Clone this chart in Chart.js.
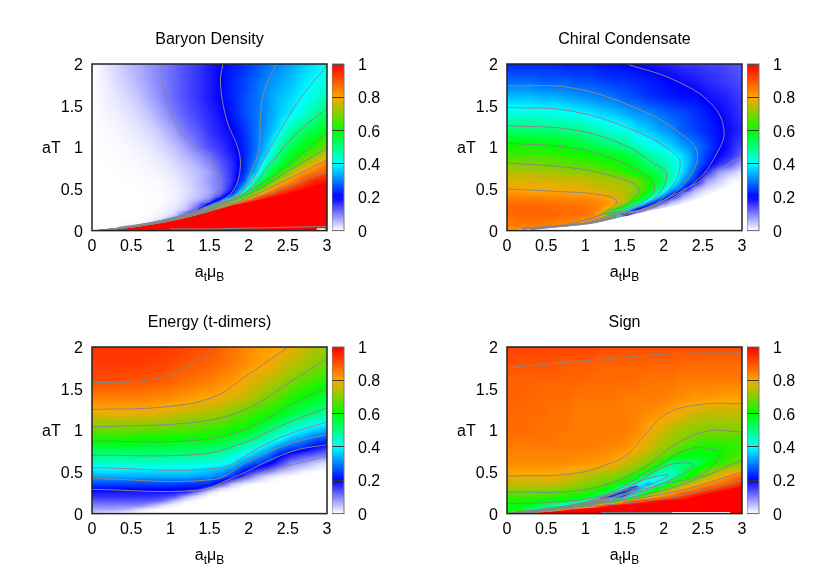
<!DOCTYPE html>
<html>
<head>
<meta charset="utf-8">
<script src="https://cdn.jsdelivr.net/npm/chart.js@4"></script>
<style>
body { margin: 0; background: #fff; }
#wrap { position: relative; width: 830px; height: 581px; overflow: hidden; }
canvas { position: absolute; }
</style>
</head>
<body>
<div id="wrap"></div>
<script>
// grid the values were read on
const muGrid = [0,.15,.3,.45,.6,.75,.9,1.05,1.2,1.35,1.5,1.65,1.8,1.95,2.1,2.25,2.4,2.55,2.7,2.85,3];
const tGrid = [0,.05,.1,.15,.2,.25,.3,.35,.4,.45,.5,.6,.7,.8,.9,1,1.2,1.4,1.6,1.8,2];

// values in hundredths, one row per tGrid entry, bottom row first
const baryon = [
[0,0,0,100,100,100,100,100,100,100,100,100,100,100,100,100,100,100,100,100,100],
[0,0,.2,1,3,6,10,100,100,100,100,100,100,100,100,100,100,100,100,100,100],
[0,0,0,.2,.5,1.5,5,8,15,100,100,100,100,100,100,100,100,100,100,100,100],
[0,0,0,0,.2,.6,2,6,10,20,100,100,100,100,100,100,100,100,100,100,100],
[0,0,0,0,0,.3,1,3,12,30,40,100,100,100,100,100,100,100,100,100,100],
[0,0,0,0,0,.2,.6,2,5,14,70,100,100,100,100,100,100,100,100,100,100],
[0,0,0,0,0,.1,.5,1.5,4,10,28,72,97,100,100,100,100,100,100,100,100],
[0,0,0,0,0,.1,.4,1.2,3,7,12,31,70,90,98,100,100,100,100,100,100],
[0,0,0,0,0,.1,.3,1,2.5,5,8,17,36,68,87,97,100,100,100,100,100],
[0,0,0,0,0,.1,.3,1,2.5,4.5,7,12,23,52,75,86,95,99,100,100,100],
[0,0,0,0,.1,.2,.4,1,2.5,4.5,7,11,19,38,60,78,88,94,98,100,100],
[0,0,0,.1,.2,.3,.7,1.5,3,5,8,11,17,27,48,60,75,83,90,96,98],
[0,0,.1,.2,.3,.6,1.1,2,3.5,5,7.5,12,17,24,36,53,61,74,82,86,90],
[0,.1,.2,.3,.5,.9,1.6,2.8,4.5,6.5,9.5,13,17,23,32,47,55,62,72,79,85],
[0,.1,.2,.4,.8,1.3,2.3,3.8,5.8,8.3,11,15,18,23,30,39,52,57,64,70,77],
[0,.1,.3,.6,1.1,1.8,3,4.8,7.5,11,14,16,19,23,29,36,48,54,58,63,70],
[0,.3,.7,1.2,2,3.1,5,7.6,11,13,16,18,20,24,29,33,39,48,52,55,58],
[0,.6,1.2,2,3.2,5,7.6,10.5,13,15,17,19,22,26,29,32,36,39,43,48,53],
[0,.9,1.9,3,4.6,7,9.5,12,14,16,18,20,23,26,29,32,35,37,40,43,46],
[0,1.2,2.6,4.2,6,8,10,12,14,16,18,20,23,25,28,31,33,35,38,40,43],
[0,1.5,3.2,5,6.5,8.5,10,12,14,15.5,18,20,22,24,26,29,31,33,36,38,40]
];
const chiral = [
[80,80,80,80,80,0,0,0,0,0,0,0,0,0,0,0,0,0,0,0,0],
[84,85,85,85,84,84,84,0,0,0,0,0,0,0,0,0,0,0,0,0,0],
[85,86,86,86,85,84,84,80,80,0,0,0,0,0,0,0,0,0,0,0,0],
[86,87,87,87,87,86,85,84,82,70,30,1,0,0,0,0,0,0,0,0,0],
[87,88,88,88,88,87,87,86,80,50,22,6,1,0,0,0,0,0,0,0,0],
[88,88,88,88,87,87,87,86,82,68,47,20,5,1,0,0,0,0,0,0,0],
[87,87,87,87,87,86,86,85,84,79,66,40,22,7,2,0,0,0,0,0,0],
[86,86,86,86,85,85,85,84,83,81,75,59,37,20,7,2,0,0,0,0,0],
[84,84,84,84,83,83,83,82,81,78,74,67,52,33,18,6,2,0,0,0,0],
[82,82,81,81,81,81,80,80,79,77,75,68,59,43,27,11,4,1,0,0,0],
[80,80,79,79,79,78,78,77,76,75,74,71,62,50,35,25,7,3,1,0,0],
[77,77,77,77,77,76,76,75,74,73,72,69,63,56,45,32,24,8,4,1,0],
[74,74,74,73,73,72,71,71,69,67,63,60,56,52,46,37,27,17,8,5,2],
[70,70,69,69,68,67,66,65,63,62,60,56,52,48,44,38,30,23,17,13,7],
[65,65,65,65,64,63,62,61,60,58,56,53,48,45,42,37,30,24,20,17,12],
[62,62,62,61,60,60,58,55,54,52,50,46,43,40,37,33,30,26,21,18,14],
[52,52,51,51,51,50,50,47,45,43,42,38,36,33,31,27,25,23,21,19,17],
[43,43,43,42,42,41,40,39,37,36,34,32,31,29,27,26,24,22,20,18,16],
[35,35,35,34,34,33,32,31,30,29,27,26,24,23,22,21,21,19,18,17,15],
[28,28,28,27,27,27,26,26,25,24,24,23,22,21,20,19,18,17,16,15,14],
[23,23,23,23,23,22,22,22,21,21,20,20,19,18,17,16,16,15,15,14,13]
];
const energy = [
[4,2,1,0,0,0,0,0,0,0,0,0,0,0,0,0,0,0,0,0,0],
[7,7,7,6,3,1,0,0,0,0,0,0,0,0,0,0,0,0,0,0,0],
[10,10,10,10,10,7,3,1,0,0,0,0,0,0,0,0,0,0,0,0,0],
[13,13,13,13,13,13,11,5,1,0,0,0,0,0,0,0,0,0,0,0,0],
[16,16,16,16,16,16,15,13,6,2,0,0,0,0,0,0,0,0,0,0,0],
[18,18,18,18,18,18,18,18,16,9,2,0,0,0,0,0,0,0,0,0,0],
[21,21,21,21,21,21,21,21,21,20,10,3,1,0,0,0,0,0,0,0,0],
[25,25,25,25,25,25,25,25,24,24,23,14,4,1,0,0,0,0,0,0,0],
[29,29,29,29,29,29,29,29,29,28,27,22,13,7,3,1,0,0,0,0,0],
[34,34,34,34,34,34,34,34,34,33,32,30,24,15,7,3,1,0,0,0,0],
[37,37,37,37,37,37,37,37,37,36,35,32,28,19,14,10,5,3,1,0,0],
[44,44,44,44,44,44,44,43,43,43,42,41,38,30,25,21,15,9,7,4,2],
[50,50,50,50,50,50,50,50,50,49,48,46,43,40,34,29,21,17,14,12,10],
[56,56,56,56,56,55,55,55,54,54,53,52,50,46,42,37,31,27,24,20,17],
[62,62,62,62,61,61,61,61,60,60,60,58,55,52,50,45,41,35,32,28,26],
[68,68,68,68,68,67,67,66,66,65,64,63,61,60,55,51,47,43,39,36,34],
[78,78,78,78,78,78,77,76,75,74,73,72,69,67,64,62,59,55,53,51,48],
[85,85,85,85,85,84,84,83,82,81,80,79,77,76,73,70,67,63,60,58,55],
[91,91,91,90,90,90,89,88,87,86,85,83,82,79,77,75,73,70,67,65,63],
[93,93,93,93,93,92,92,91,90,89,88,87,85,83,81,80,77,75,73,71,68],
[94,94,94,94,94,94,93,93,92,91,90,88,86,84,82,81,80,78,76,74,72]
];
const sign = [
[62,90,100,100,100,100,100,100,100,100,100,100,100,100,100,100,100,100,100,100,100],
[57,56,50,42,55,85,96,100,100,100,100,100,100,100,100,100,100,100,100,100,100],
[59,60,58,55,48,42,42,62,90,98,100,100,100,100,100,100,100,100,100,100,100],
[62,62,61,60,59,57,53,45,30,50,85,93,97,99,100,100,100,100,100,100,100],
[65,65,65,64,63,62,60,56,48,24,28,60,76,84,89,94,98,100,100,100,100],
[68,68,68,67,66,66,64,62,58,47,22,40,62,72,80,88,92,96,98,100,100],
[72,72,72,72,71,70,68,66,63,56,38,28,45,63,72,79,84,90,93,96,99],
[75,75,75,75,75,74,72,70,67,63,55,42,33,45,63,72,78,83,87,91,95],
[77,77,77,77,77,76,74,72,70,68,63,54,41,39,52,65,71,78,82,87,90],
[79,79,79,79,79,78,76,74,72,71,67,60,50,41,44,56,62,72,78,83,87],
[80,80,80,80,80,79,78,77,75,73,71,67,58,47,45,52,62,68,74,78,80],
[83,83,83,83,83,83,82,82,81,80,76,73,69,62,50,51,52,58,63,67,69],
[84,84,84,84,84,84,84,83,83,82,80,76,74,70,65,60,58,58,60,64,66],
[85,85,85,85,85,85,85,85,84,84,83,80,77,73,70,66,63,61,62,63,64],
[86,86,86,86,86,85,85,85,85,85,84,82,78,75,72,70,68,66,66,66,66],
[87,87,87,86,86,86,85,85,85,85,85,84,80,77,74,72,71,70,70,70,70],
[88,87,87,87,86,86,85,85,85,85,85,84,83,82,80,78,76,75,75,75,75],
[88,88,88,87,87,87,86,86,86,86,85,85,85,85,84,83,82,82,81,81,81],
[88,88,88,88,88,88,88,87,87,87,87,87,86,86,86,85,85,85,85,85,85],
[91,90,90,90,90,89,89,89,88,88,88,88,88,88,88,87,87,87,87,87,87],
[92,92,92,92,92,92,92,92,91,91,91,91,91,91,91,91,91,91,91,91,91]
];

// contour lines, [mu, T] pairs
const baryonLines = [
[[.885,2],[.89,1.81],[1,1.41],[1.21,1.09],[1.47,.89],[1.62,.65],[1.62,.53],[1.51,.37],[1.13,.17],[.49,.05],[.06,0]],
[[1.67,2],[1.64,1.77],[1.72,1.33],[1.87,.97],[1.89,.73],[1.81,.49],[1.64,.35],[1.2,.2],[.55,.06],[.06,0]],
[[2.35,2],[2.19,1.65],[2.15,1.33],[2.13,.97],[2.04,.73],[1.85,.41],[1.5,.3],[1.22,.2],[.6,.06],[.06,0]],
[[3,1.99],[2.62,1.53],[2.36,1.13],[2.19,.85],[1.94,.49],[1.53,.3],[1.24,.2],[.65,.07],[.06,0]],
[[3,1.47],[2.62,1.17],[2.28,.81],[1.98,.47],[1.56,.3],[1.26,.2],[.7,.07],[.1,0]],
[[3,1.17],[2.53,.81],[2.11,.53],[1.6,.3],[1.28,.2],[.75,.08],[.1,0]],
[[3,.99],[2.53,.73],[2.11,.49],[1.63,.3],[1.3,.2],[.8,.09],[.15,0]],
[[3,.85],[2.49,.61],[1.98,.39],[1.68,.3],[1.33,.2],[.85,.1],[.2,0]],
[[3,.71],[2.4,.49],[1.85,.33],[1.37,.2],[.9,.1],[.3,.02]],
[[1,.02],[1.5,.02],[2,.03],[2.5,.04],[3,.05]]
];
const chiralLines = [
[[.17,.02],[1.06,.09],[1.7,.25],[2.34,.53],[3,.9]],
[[1.53,2],[2.13,1.81],[2.6,1.53],[2.77,1.21],[2.68,.93],[2.43,.61],[1.91,.29],[1.48,.2],[1,.09],[.3,.01]],
[[0,1.74],[.85,1.71],[1.7,1.45],[2.21,1.17],[2.43,.93],[2.3,.61],[1.87,.29],[1.43,.2],[1,.09]],
[[0,1.48],[.85,1.43],[1.7,1.17],[2.13,.93],[2.21,.81],[2.13,.57],[1.84,.29],[1.38,.2],[1,.09]],
[[0,1.26],[.85,1.21],[1.49,1.03],[1.87,.81],[2.04,.69],[1.91,.41],[1.57,.25],[1.35,.2]],
[[0,1.05],[.85,.99],[1.49,.81],[1.87,.57],[1.83,.41],[1.5,.25],[1.3,.2]],
[[0,.81],[.85,.75],[1.36,.65],[1.68,.51],[1.57,.35],[1.37,.25],[1.25,.2],[.9,.1]],
[[0,.5],[.64,.47],[1.19,.43],[1.4,.35],[1.19,.19],[.88,.1],[.4,.02]]
];
const energyLines = [
[[0,1.57],[.7,1.6],[1.13,1.72],[1.55,1.98]],
[[0,1.25],[.91,1.28],[1.55,1.4],[1.98,1.66],[2.49,1.99]],
[[0,1.04],[1.34,1.1],[1.98,1.26],[2.53,1.58],[3,1.86]],
[[0,.87],[1.34,.88],[1.98,1.02],[2.53,1.3],[3,1.51]],
[[0,.7],[1.34,.71],[1.85,.82],[2.53,1.1],[3,1.27]],
[[0,.55],[1.64,.55],[2.11,.78],[2.53,.96],[3,1.1]],
[[0,.42],[1.55,.41],[1.98,.62],[2.53,.84],[3,.95]],
[[0,.29],[1.34,.28],[1.77,.42],[2.53,.74],[3,.83]],
[[1.5,.3],[1.85,.4],[2.2,.5],[2.57,.59],[3,.69]]
];
const signLines = [
[[0,1.75],[1.28,1.86],[2.13,1.92],[3,1.93]],
[[0,.45],[.85,.48],[1.36,.62],[1.57,.74],[1.79,.98],[2.04,1.2],[2.47,1.31],[3,1.32]],
[[0,.26],[.85,.27],[1.36,.38],[1.79,.58],[2.13,.82],[2.55,.99],[3,.98]],
[[0,.12],[.64,.14],[1.28,.24],[1.87,.54],[2.34,.78],[2.68,.76],[2.72,.7],[2.47,.46],[1.91,.34],[1.28,.14],[.6,.06],[0,0]],
[[1,.12],[1.53,.3],[1.87,.5],[2.13,.6],[2.38,.58],[2.13,.42],[1.5,.2],[1,.11]],
[[.95,.12],[1.45,.28],[1.79,.42],[2.06,.46],[1.91,.38],[1.4,.2],[.9,.1]],
[[1.1,.15],[1.36,.24],[1.7,.32],[1.36,.2],[1.1,.14]],
[[0,0],[.8,.08],[1.91,.26],[2.55,.46],[3,.64]],
[[.1,0],[.85,.08],[2.13,.26],[3,.5]],
[[.2,0],[.9,.07],[2.13,.2],[3,.4]]
];

// the steep edges the value grid is too coarse for: filled areas, bunched contours, bottom noise
const baryonEdge = [[.06,0],[.3,.015],[.9,.1],[1.37,.2],[1.75,.29],[2.1,.36],[2.4,.42],[2.7,.5],[3,.58]];
const baryonBunch = [[.35,.03],[.9,.105],[1.3,.19],[1.55,.26]];
const baryonGap = [[2.87,.015],[2.98,.015]];
const chiralEdge = [[.15,.012],[1.06,.085],[1.4,.15],[1.7,.21],[2,.27],[2.4,.36],[3,.6]];
const chiralBunch = [[.2,.02],[1.06,.09],[1.4,.17]];
const signEdge = [[.3,0],[1,.06],[2.13,.15],[3,.33]];
const signBunch = [[.1,.005],[.6,.06],[1.1,.14],[1.3,.18]];
const signTrough = [[1.19,.18],[1.4,.24],[1.66,.32]];
const signNoise = [[1.2,.008],[2.1,.008]];
const signGap = [[2.1,.006],[2.85,.006]];

const titles = ["Baryon Density", "Chiral Condensate", "Energy (t-dimers)", "Sign"];
const muTicks = [0, .5, 1, 1.5, 2, 2.5, 3];
const tTicks = [0, .5, 1, 1.5, 2];
const barTicks = [0, .2, .4, .6, .8, 1];
const barValue = [1];

// palette stops: value, r, g, b
const palette = [
[0, 255, 255, 255],
[.2, 0, 0, 255],
[.4, 0, 255, 255],
[.6, 0, 255, 0],
[.8, 255, 165, 0],
[1, 255, 0, 0]
];

const FONT = '"Liberation Sans", Arial, sans-serif';
const GRAY = "#888888";
const wrap = document.getElementById("wrap");

function addCanvas(left, top, w, h) {
    const c = document.createElement("canvas");
    c.width = w;
    c.height = h;
    c.style.left = left + "px";
    c.style.top = top + "px";
    wrap.appendChild(c);
    return c;
}

function colorOf(v) {
    for (let i = 1; i < palette.length; i++) {
        if (v <= palette[i][0]) {
            const a = palette[i - 1], b = palette[i];
            const f = (v - a[0]) / (b[0] - a[0]);
            return [a[1] + (b[1] - a[1]) * f, a[2] + (b[2] - a[2]) * f, a[3] + (b[3] - a[3]) * f];
        }
    }
    return palette[palette.length - 1].slice(1);
}

function cellIndex(list, v) {
    let i = 0;
    while (i < list.length - 2 && v > list[i + 1]) i++;
    return i;
}

// digits sit a little high with a middle baseline, push the y labels down
function nudgeLabels(scale) {
    if (scale.nudged) return;
    scale.nudged = true;
    const draw = scale.drawLabels;
    scale.drawLabels = function (area) {
        this.ctx.save();
        this.ctx.translate(0, 1.5);
        draw.call(this, area);
        this.ctx.restore();
    };
}

// paints the value grid under the contours, smooth like pm3d interpolate
const heatPlugin = {
    id: "heat",
    beforeDatasetsDraw(chart, args, opts) {
        const a = chart.chartArea, sx = chart.scales.x, sy = chart.scales.y;
        const w = Math.ceil(a.right - a.left), h = Math.ceil(a.bottom - a.top);
        const off = document.createElement("canvas");
        off.width = w;
        off.height = h;
        const octx = off.getContext("2d");
        const img = octx.createImageData(w, h);
        for (let py = 0; py < h; py++) {
            const t = Math.min(2, Math.max(0, sy.getValueForPixel(a.top + py + .5)));
            const j = cellIndex(tGrid, t);
            const ft = (t - tGrid[j]) / (tGrid[j + 1] - tGrid[j]);
            for (let px = 0; px < w; px++) {
                const m = Math.min(3, Math.max(0, sx.getValueForPixel(a.left + px + .5)));
                const i = cellIndex(muGrid, m);
                const fm = (m - muGrid[i]) / (muGrid[i + 1] - muGrid[i]);
                const r0 = opts.rows[j], r1 = opts.rows[j + 1];
                const v = (r0[i] * (1 - fm) + r0[i + 1] * fm) * (1 - ft) + (r1[i] * (1 - fm) + r1[i + 1] * fm) * ft;
                const c = colorOf(v / 100);
                const k = (py * w + px) * 4;
                img.data[k] = c[0];
                img.data[k + 1] = c[1];
                img.data[k + 2] = c[2];
                img.data[k + 3] = 255;
            }
        }
        octx.putImageData(img, 0, 0);
        chart.ctx.drawImage(off, a.left, a.top, a.right - a.left, a.bottom - a.top);
    },
    afterDraw(chart) {
        const a = chart.chartArea, ctx = chart.ctx;
        ctx.save();
        ctx.strokeStyle = "#222";
        ctx.lineWidth = 1.5;
        ctx.strokeRect(a.left, a.top, a.right - a.left, a.bottom - a.top);
        // axis labels, the subscripts need separate pieces
        ctx.fillStyle = "#000";
        ctx.textBaseline = "alphabetic";
        ctx.textAlign = "left";
        ctx.font = "16px " + FONT;
        ctx.fillText("aT", 42, (a.top + a.bottom) / 2 + 6);
        const parts = [["a", 16, 0], ["t", 12, 4], ["\u03bc", 16, 0], ["B", 12, 4]];
        let width = 0;
        parts.forEach(p => { ctx.font = p[1] + "px " + FONT; width += ctx.measureText(p[0]).width; });
        let x = (a.left + a.right) / 2 - width / 2;
        parts.forEach(p => {
            ctx.font = p[1] + "px " + FONT;
            ctx.fillText(p[0], x, a.bottom + 46 + p[2]);
            x += ctx.measureText(p[0]).width;
        });
        ctx.restore();
    }
};

function toPoints(line) {
    return line.map(p => ({ x: p[0], y: p[1] }));
}

function drawPanel(index, rows, lines, extras, left, top) {
    const canvas = addCanvas(left, top, 336, 290);
    const datasets = lines.map(line => ({
        data: toPoints(line),
        showLine: true,
        borderColor: GRAY,
        borderWidth: 1,
        pointRadius: 0,
        tension: .4
    }));
    // the first dataset is drawn last, so these go under the contours
    extras.forEach(e => datasets.push({
        data: toPoints(e.line),
        showLine: true,
        borderColor: e.color,
        borderWidth: e.fill ? 0 : e.width,
        backgroundColor: e.color,
        fill: e.fill ? "origin" : false,
        pointRadius: 0,
        tension: .3
    }));
    new Chart(canvas, {
        type: "scatter",
        data: { datasets: datasets },
        plugins: [heatPlugin],
        options: {
            responsive: false,
            animation: false,
            layout: { padding: { top: 30, right: 9, left: 0, bottom: 0 } },
            plugins: {
                legend: { display: false },
                tooltip: { enabled: false },
                heat: { rows: rows },
                title: {
                    display: true,
                    text: titles[index],
                    color: "#000",
                    fullSize: false,
                    font: { family: FONT, size: 16, weight: "normal" },
                    padding: { top: 0, bottom: 14.8 }
                }
            },
            scales: {
                x: {
                    type: "linear",
                    min: 0,
                    max: 3,
                    afterFit: s => { s.height = 59.4; s.paddingLeft = 0; s.paddingRight = 0; },
                    afterBuildTicks: s => { s.ticks = muTicks.map(v => ({ value: v })); },
                    grid: { display: false, drawTicks: false },
                    border: { display: false },
                    ticks: { color: "#000", maxRotation: 0, padding: 6, callback: v => String(v), font: { family: FONT, size: 16 } }
                },
                y: {
                    min: 0,
                    max: 2,
                    afterFit: s => { s.width = 92; s.paddingTop = 0; s.paddingBottom = 0; nudgeLabels(s); },
                    afterBuildTicks: s => { s.ticks = tTicks.map(v => ({ value: v })); },
                    grid: { display: false, drawTicks: false },
                    border: { display: false },
                    ticks: { color: "#000", padding: 9, callback: v => String(v), font: { family: FONT, size: 16 } }
                }
            }
        }
    });

    // colour key beside the panel
    const barCanvas = addCanvas(left + 332, top, 60, 290);
    new Chart(barCanvas, {
        type: "bar",
        data: {
            labels: [""],
            datasets: [{
                data: barValue,
                barPercentage: 1,
                categoryPercentage: 1,
                backgroundColor(ctx) {
                    const a = ctx.chart.chartArea;
                    if (!a) return "#fff";
                    const g = ctx.chart.ctx.createLinearGradient(0, a.bottom, 0, a.top);
                    palette.forEach(p => g.addColorStop(p[0], "rgb(" + p[1] + "," + p[2] + "," + p[3] + ")"));
                    return g;
                }
            }]
        },
        options: {
            responsive: false,
            animation: false,
            layout: { padding: { top: 64, bottom: 59.4, left: 0, right: 0 } },
            plugins: { legend: { display: false }, tooltip: { enabled: false } },
            scales: {
                x: { display: false },
                y: {
                    position: "right",
                    min: 0,
                    max: 1,
                    afterFit: s => { s.width = 48; s.paddingTop = 0; s.paddingBottom = 0; nudgeLabels(s); },
                    afterBuildTicks: s => { s.ticks = barTicks.map(v => ({ value: v })); },
                    grid: { z: 1, color: "#333", drawTicks: false },
                    border: { display: false },
                    ticks: { color: "#000", padding: 14, callback: v => String(v), font: { family: FONT, size: 16 } }
                }
            }
        },
        plugins: [{
            id: "barFrame",
            afterDraw(chart) {
                const a = chart.chartArea, ctx = chart.ctx;
                ctx.save();
                ctx.strokeStyle = "#777";
                ctx.lineWidth = 1;
                ctx.strokeRect(a.left, a.top, a.right - a.left, a.bottom - a.top);
                ctx.restore();
            }
        }]
    });
}

drawPanel(0, baryon, baryonLines, [
    { line: baryonBunch, color: GRAY, width: 2.5 },
    { line: baryonGap, color: "#fff", width: 2 },
    { line: baryonEdge, color: "#ff0000", fill: true }
], 0, 0);
drawPanel(1, chiral, chiralLines, [
    { line: chiralBunch, color: GRAY, width: 2 },
    { line: chiralEdge, color: "#fff", fill: true }
], 415, 0);
drawPanel(2, energy, energyLines, [], 0, 283);
drawPanel(3, sign, signLines, [
    { line: signBunch, color: GRAY, width: 3 },
    { line: signTrough, color: "#1030e0", width: 3 },
    { line: signNoise, color: GRAY, width: 2 },
    { line: signGap, color: "#fff", width: 2 },
    { line: signEdge, color: "#ff0000", fill: true }
], 415, 283);
</script>
</body>
</html>
